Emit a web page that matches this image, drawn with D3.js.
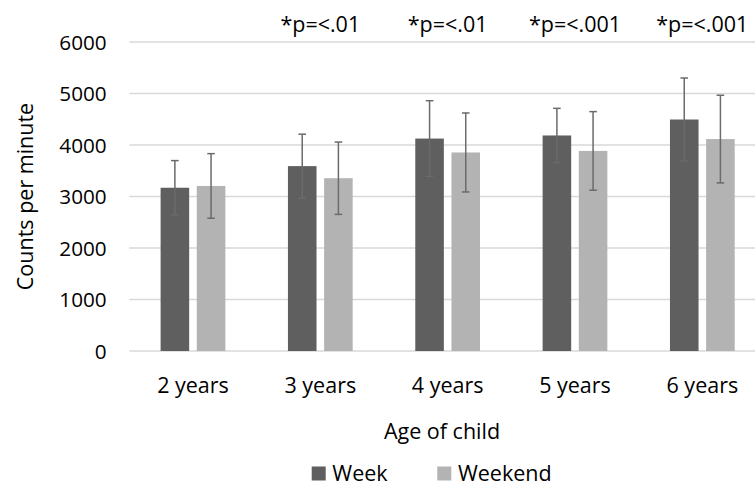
<!DOCTYPE html>
<html><head><meta charset="utf-8">
<script src="https://cdn.jsdelivr.net/npm/d3@7"></script>
<style>body{margin:0;background:#fff}svg{display:block}text{font-family:"Open Sans",sans-serif;fill:#000}</style>
</head><body><svg id="c" width="755" height="484"></svg>
<script>
const categories = ["2 years","3 years","4 years","5 years","6 years"];
const seriesNames = ["Week","Weekend"];
const week = [3170,3590,4125,4185,4495];
const weekend = [3205,3355,3855,3885,4115];
const weekErr = [527,620,735,527,806];
const weekendErr = [627,702,767,763,851];
const annotations = ["","*p=<.01","*p=<.01","*p=<.001","*p=<.001"];
const yTicks = [0,1000,2000,3000,4000,5000,6000];

const svg = d3.select("#c");
const mLeft = 129.3, mRight = 766, mTop = 42, mBottom = 351;
const fs = "21.5px", tickFs = "20.7px";
const x = d3.scaleBand().domain(categories).range([mLeft,mRight]).paddingInner(0).paddingOuter(0);
const sub = d3.scaleBand().domain(seriesNames).range([31.3, x.bandwidth()-31.3]).paddingInner(0.21);
const y = d3.scaleLinear().domain([0,6000]).range([mBottom,mTop]);
const colors = {Week:"#5f5f5f", Weekend:"#b3b3b3"};

// gridlines
svg.append("g").selectAll("line").data(yTicks).join("line")
  .attr("x1",mLeft).attr("x2",755).attr("y1",d=>y(d)).attr("y2",d=>y(d))
  .attr("stroke","#d9d9d9").attr("stroke-width",1.5);

// y tick labels
const yAxis = d3.axisLeft(y).tickValues(yTicks).tickSize(0).tickPadding(0).tickFormat(d3.format("d"));
const ya = svg.append("g").attr("transform","translate(106.7,0)").call(yAxis);
ya.select(".domain").remove();
ya.selectAll("text").style("font-size",tickFs).attr("fill","#000").attr("dy","0.36em").style("font-family","'Open Sans',sans-serif");

const data = categories.map((c,i)=>[
  {cat:c,s:"Week",v:week[i],e:weekErr[i]},
  {cat:c,s:"Weekend",v:weekend[i],e:weekendErr[i]}]).flat();

svg.append("g").selectAll("rect").data(data).join("rect")
  .attr("x",d=>x(d.cat)+sub(d.s)).attr("width",sub.bandwidth())
  .attr("y",d=>y(d.v)).attr("height",d=>y(0)-y(d.v))
  .attr("fill",d=>colors[d.s]);

// error bars
const eg = svg.append("g").attr("stroke","#6b6b6b").attr("stroke-width",1.5);
data.forEach(d=>{
  const cx = x(d.cat)+sub(d.s)+sub.bandwidth()/2;
  eg.append("line").attr("x1",cx).attr("x2",cx).attr("y1",y(d.v+d.e)).attr("y2",y(d.v-d.e));
  [d.v+d.e,d.v-d.e].forEach(t=>eg.append("line").attr("x1",cx-3.8).attr("x2",cx+3.8).attr("y1",y(t)).attr("y2",y(t)));
});

// x labels
const xa = svg.append("g").attr("transform",`translate(0,${mBottom})`).call(d3.axisBottom(x).tickSize(0).tickPadding(0));
xa.select(".domain").remove();
xa.selectAll("text").attr("y",42.3).attr("dy",null).style("font-size",fs).attr("fill","#000").style("font-family","'Open Sans',sans-serif");

// annotations
svg.append("g").selectAll("text").data(categories).join("text")
  .attr("x",d=>x(d)+x.bandwidth()/2).attr("y",32).attr("text-anchor","middle")
  .style("font-size",fs).text((d,i)=>annotations[i]);

// axis titles
svg.append("text").attr("x",442).attr("y",439).attr("text-anchor","middle").style("font-size",fs).text("Age of child");
svg.append("text").attr("transform","translate(33,196.5) rotate(-90)").attr("text-anchor","middle").style("font-size",fs).text("Counts per minute");

// legend
const legend = svg.append("g");
const lg = [{n:"Week",x:311.7},{n:"Weekend",x:437.3}];
lg.forEach(l=>{
  legend.append("rect").attr("x",l.x).attr("y",466.5).attr("width",14).attr("height",14).attr("fill",colors[l.n]);
  legend.append("text").attr("x",l.x+20.6).attr("y",480.5).style("font-size",fs).text(l.n);
});
</script></body></html>
